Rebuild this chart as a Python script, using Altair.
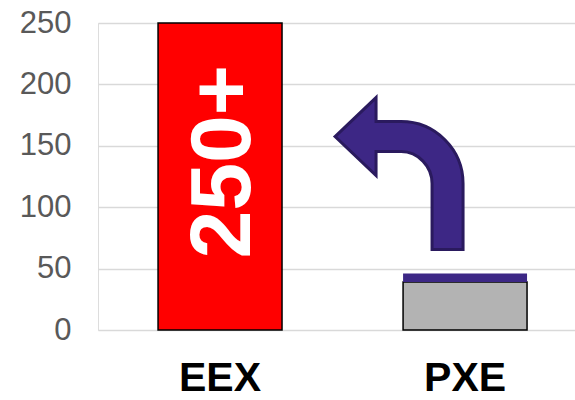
import re
import altair as alt
import pandas as pd

# ---- data ----
categories = ["EEX", "PXE"]
base_values = [250, 39]
bar_colors = ["#FF0000", "#B3B3B3"]

overlay_cat = ["PXE"]
overlay_low = [39]
overlay_high = [46]

label_cat = ["EEX"]
label_y = [137]
label_text = ["250+"]

arrow_cat = ["PXE"]
arrow_y = [127.4]

y_ticks = [0, 50, 100, 150, 200, 250]

# arrow outline (drawn in its own pixel frame, normalized to the unit box)
arrow_outline = ("M335 137 L376 98 L376 122 L401 122 C435.2 122 463 149.8 463 184 "
                 "L463 250 L432 250 L432 184 C432 166.9 418.1 152 401 152 "
                 "L376 152 L376 176 Z")
cx, cy, half = 399.0, 174.0, 76.0


def normalize(path):
    out = []
    idx = 0
    for tok in re.findall(r"[A-Za-z]|-?\d+\.?\d*", path):
        if tok.isalpha():
            out.append(tok)
        else:
            v = float(tok)
            v = (v - cx) / half if idx % 2 == 0 else (v - cy) / half
            idx += 1
            out.append(f"{v:.4f}")
    return " ".join(out)


arrow_shape = normalize(arrow_outline)

bars_df = pd.DataFrame({"cat": categories, "value": base_values})
over_df = pd.DataFrame({"cat": overlay_cat, "low": overlay_low, "high": overlay_high})
label_df = pd.DataFrame({"cat": label_cat, "y": label_y, "t": label_text})
arrow_df = pd.DataFrame({"cat": arrow_cat, "y": arrow_y})

FONT = "Liberation Sans"

x_enc = alt.X(
    "cat:N",
    sort=categories,
    title=None,
    scale=alt.Scale(domain=categories, paddingInner=0.494, paddingOuter=0.2204, align=0.556),
    axis=alt.Axis(
        labelFont=FONT, labelFontSize=41, labelFontWeight="bold", labelColor="#000000",
        labelPadding=28.5, ticks=False, tickSize=0, domain=False, grid=False, labelAngle=0,
    ),
)
y_scale = alt.Scale(domain=[0, 250], nice=False, zero=True)

bars = alt.Chart(bars_df).mark_bar(stroke="#000000", strokeWidth=1.5).encode(
    x=x_enc,
    y=alt.Y(
        "value:Q",
        scale=y_scale,
        title=None,
        axis=alt.Axis(
            values=y_ticks, labelFont=FONT, labelFontSize=31, labelColor="#595959",
            labelPadding=27, ticks=False, tickSize=0, domain=False,
            gridColor="#D9D9D9", gridWidth=1.5,
        ),
    ),
    color=alt.Color("cat:N", scale=alt.Scale(domain=categories, range=bar_colors), legend=None),
)

overlay = alt.Chart(over_df).mark_bar(color="#3C2785").encode(
    x=alt.X("cat:N", sort=categories),
    y=alt.Y("low:Q", scale=y_scale),
    y2="high:Q",
)

label = alt.Chart(label_df).mark_text(
    font=FONT, fontSize=86, fontWeight="bold", color="#FFFFFF",
    angle=270, align="center", baseline="middle", dy=4,
).encode(
    x=alt.X("cat:N", sort=categories),
    y=alt.Y("y:Q", scale=y_scale),
    text="t:N",
)

arrow = alt.Chart(arrow_df).mark_point(
    shape=arrow_shape, size=(2 * half) ** 2, filled=True, fill="#3D2785",
    stroke="#2A1A5E", strokeWidth=3, opacity=1, xOffset=cx - 465,
).encode(
    x=alt.X("cat:N", sort=categories),
    y=alt.Y("y:Q", scale=y_scale),
)

chart = alt.layer(bars, overlay, label, arrow).properties(
    width=477,
    height=307,
    autosize=alt.AutoSizeParams(type="none"),
    padding={"left": 98, "top": 23, "right": 0, "bottom": 70},
).configure_view(stroke=None).configure(background="#FFFFFF")

chart.save("out.html", embed_options={"renderer": "svg", "actions": False})
